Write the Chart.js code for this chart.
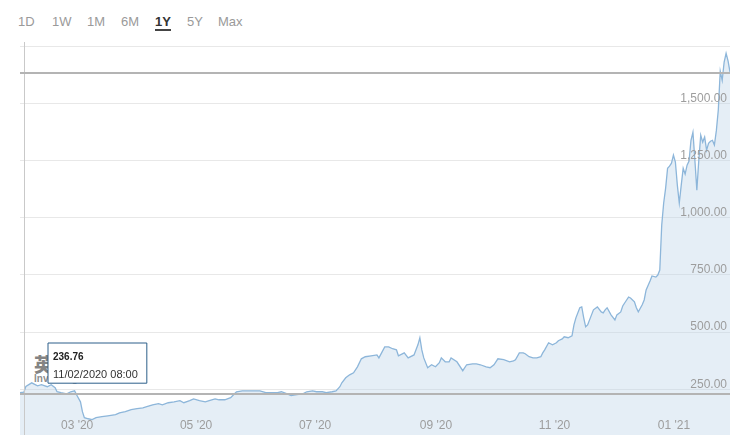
<!DOCTYPE html>
<html>
<head>
<meta charset="utf-8">
<title>ETH 1Y</title>
<script src="https://cdn.jsdelivr.net/npm/chart.js@4.4.1/dist/chart.umd.min.js"></script>
<style>
  body { margin: 0; background: #fff; }
  #wrap { position: relative; width: 750px; height: 447px; overflow: hidden; font-family: 'Liberation Sans', Arial, sans-serif; }
  .range { position: absolute; top: 14px; font-size: 13px; color: #9a9a9a; }
  .range.on { color: #333; font-weight: bold; border-bottom: 2px solid #444; line-height: 15px; }
  #mark { position: absolute; left: 34px; top: 350px; }
  #mark .cn { font-family: 'Noto Sans CJK SC', sans-serif; font-size: 19px; font-weight: bold; color: rgba(235, 165, 95, 0.35); }
  #mark .cn b { color: rgba(110, 110, 110, 0.85); }
  #mark .en { font-size: 10px; font-weight: bold; color: rgba(110, 110, 110, 0.8); margin-top: -4px; }
  #chart { position: absolute; left: 0; top: 0; }
</style>
</head>
<body>
<div id="wrap">
  <span class="range" style="left:18px">1D</span>
  <span class="range" style="left:52px">1W</span>
  <span class="range" style="left:87px">1M</span>
  <span class="range" style="left:121px">6M</span>
  <span class="range on" style="left:155px">1Y</span>
  <span class="range" style="left:187px">5Y</span>
  <span class="range" style="left:218px">Max</span>
  <div id="mark"><div class="cn"><b>英</b>为财情</div><div class="en">Investing.com</div></div>
  <canvas id="chart" width="750" height="447"></canvas>
</div>
<script>
// day number counted from 1 Jan 2020
const days = [39, 41, 42, 45, 48, 50, 53, 55, 57, 58, 60, 63, 65, 67, 68, 70, 71, 72, 74, 76,
  78, 81, 84, 88, 90, 93, 96, 99, 102, 104, 107, 110, 112, 115, 118, 121, 123, 126, 128, 131,
  134, 136, 139, 141, 144, 147, 149, 150, 153, 156, 159, 162, 165, 168, 171, 173, 176, 178, 181, 184,
  186, 189, 191, 194, 196, 199, 201, 203, 204, 206, 208, 210, 212, 214, 216, 219, 222, 223, 226, 228,
  230, 232, 233, 236, 238, 241, 243, 244, 245, 246, 248, 250, 252, 254, 255, 257, 259, 260, 263, 266,
  268, 271, 273, 275, 278, 280, 282, 284, 287, 290, 292, 293, 295, 297, 298, 300, 302, 304, 306, 307,
  308, 310, 312, 314, 315, 317, 318, 320, 322, 323, 324, 326, 327, 328, 329, 330, 332, 333, 335, 337,
  338, 339, 340, 342, 344, 345, 347, 348, 350, 351, 352, 354, 355, 356, 358, 359, 360, 362, 363, 365,
  366, 367, 368, 369, 370, 371, 372, 373, 374, 375, 376, 377, 378, 379, 380, 381, 382, 383, 384, 385,
  386, 387, 388, 389, 390, 391, 392, 393, 394, 395, 396, 397, 398, 399, 400, 401, 402, 403];

const prices = [235, 236.76, 262, 278, 265, 270, 261, 270, 257, 239, 235, 230, 239, 243, 226, 195, 152, 126, 121, 117,
  126, 130, 134, 139, 147, 152, 161, 165, 169, 174, 182, 187, 182, 191, 195, 200, 191, 200, 208, 200,
  195, 200, 208, 204, 204, 213, 230, 239, 243, 243, 243, 243, 235, 235, 235, 239, 230, 222, 226, 230,
  239, 243, 239, 239, 235, 239, 243, 261, 278, 300, 313, 322, 348, 383, 392, 396, 400, 387, 435, 435,
  427, 422, 396, 409, 387, 400, 444, 475, 422, 387, 344, 357, 348, 366, 387, 370, 370, 387, 370, 331,
  357, 361, 361, 357, 348, 344, 357, 383, 379, 370, 374, 379, 409, 409, 405, 392, 387, 387, 392, 409,
  422, 453, 444, 453, 462, 470, 479, 475, 483, 531, 562, 606, 610, 562, 523, 531, 575, 597, 610, 588,
  584, 597, 606, 575, 553, 575, 588, 614, 640, 653, 649, 632, 606, 588, 619, 640, 684, 723, 745, 740,
  749, 771, 968, 1064, 1129, 1216, 1225, 1238, 1273, 1243, 1142, 1064, 1142, 1216, 1190, 1229, 1247, 1338, 1373, 1251,
  1120, 1251, 1360, 1330, 1352, 1295, 1325, 1334, 1338, 1317, 1380, 1470, 1640, 1600, 1680, 1718, 1685, 1636];

const tickDays = [60, 121, 182, 244, 305, 366];
const tickLabels = ["03 '20", "05 '20", "07 '20", "09 '20", "11 '20", "01 '21"];
const yTicks = [250, 500, 750, 1000, 1250, 1500, 1750];
const yTickLabels = ['250.00', '500.00', '750.00', '1,000.00', '1,250.00', '1,500.00', ''];
const currentPrice = 1633;
const hoverIndex = 1; // the point shown in the tooltip (11/02/2020)

const lineColor = '#8db6da';
const fillColor = 'rgba(190, 212, 232, 0.4)';

Chart.defaults.font.family = "'Liberation Sans', Arial, sans-serif";

Chart.Tooltip.positioners.pinned = function () {
  return { x: 48, y: 343 };
};

// crosshair at the hovered point and the current price line
const guideLines = {
  id: 'guideLines',
  afterDatasetsDraw(chart) {
    const { ctx, chartArea, scales: { x, y } } = chart;
    const px = Math.round(x.getPixelForValue(days[hoverIndex])) + 0.5;
    const py = Math.round(y.getPixelForValue(prices[hoverIndex])) + 2;
    const pc = Math.round(y.getPixelForValue(currentPrice));
    ctx.save();
    ctx.strokeStyle = '#c9c9c9';
    ctx.lineWidth = 1;
    ctx.beginPath();
    ctx.moveTo(px, chartArea.top - 4);
    ctx.lineTo(px, chartArea.bottom);
    ctx.stroke();
    ctx.strokeStyle = '#b4b4b4';
    ctx.lineWidth = 2;
    ctx.beginPath();
    ctx.moveTo(chartArea.left, py);
    ctx.lineTo(chartArea.right, py);
    ctx.moveTo(chartArea.left, pc);
    ctx.lineTo(chartArea.right, pc);
    ctx.stroke();
    ctx.restore();
  }
};

const chart = new Chart(document.getElementById('chart'), {
  type: 'line',
  data: {
    datasets: [{
      data: days.map((d, i) => ({ x: d, y: prices[i] })),
      borderColor: lineColor,
      backgroundColor: fillColor,
      borderWidth: 1.3,
      fill: 'start',
      tension: 0,
      pointRadius: 0,
      pointHoverRadius: 0
    }]
  },
  options: {
    responsive: false,
    animation: false,
    events: [],
    layout: { padding: { left: 20, right: 20, top: 46, bottom: 12 } },
    plugins: {
      legend: { display: false },
      tooltip: {
        position: 'pinned',
        xAlign: 'left',
        yAlign: 'top',
        caretSize: 0,
        caretPadding: 0,
        cornerRadius: 0,
        backgroundColor: '#fff',
        borderColor: '#2c5f8a',
        borderWidth: 1,
        displayColors: false,
        titleColor: '#222',
        bodyColor: '#333',
        titleFont: { size: 10, weight: 'bold' },
        bodyFont: { size: 11 },
        titleMarginBottom: 5,
        padding: { left: 5, right: 9, top: 8, bottom: 2 },
        callbacks: {
          title: (items) => items[0].parsed.y.toFixed(2),
          label: (item) => {
            const dt = new Date(Date.UTC(2020, 0, 1 + item.parsed.x));
            const dd = String(dt.getUTCDate()).padStart(2, '0');
            const mm = String(dt.getUTCMonth() + 1).padStart(2, '0');
            return dd + '/' + mm + '/' + dt.getUTCFullYear() + ' 08:00';
          }
        }
      }
    },
    scales: {
      x: {
        type: 'linear',
        min: 39,
        max: 403,
        afterBuildTicks: (scale) => { scale.ticks = tickDays.map(v => ({ value: v })); },
        afterFit: (scale) => { scale.height = 0; },
        border: { display: false },
        grid: { display: false, drawTicks: false },
        ticks: {
          z: 1,
          mirror: true,
          align: 'start',
          padding: 2,
          maxRotation: 0,
          autoSkip: false,
          color: '#9d9d9d',
          font: { size: 12 },
          callback: (v, i) => tickLabels[i]
        }
      },
      y: {
        position: 'right',
        min: 50,
        max: 1750,
        afterBuildTicks: (scale) => { scale.ticks = yTicks.map(v => ({ value: v })); },
        afterFit: (scale) => { scale.width = 0; },
        border: { display: false },
        grid: { color: '#e8e8e8', drawTicks: false },
        ticks: {
          z: 1,
          mirror: true,
          padding: -3,
          labelOffset: -5,
          color: '#9d9d9d',
          font: { size: 12 },
          callback: (v, i) => yTickLabels[i]
        }
      }
    }
  },
  plugins: [guideLines]
});

chart.tooltip.setActiveElements([{ datasetIndex: 0, index: hoverIndex }], { x: 48, y: 343 });
chart.update();
</script>
</body>
</html>
